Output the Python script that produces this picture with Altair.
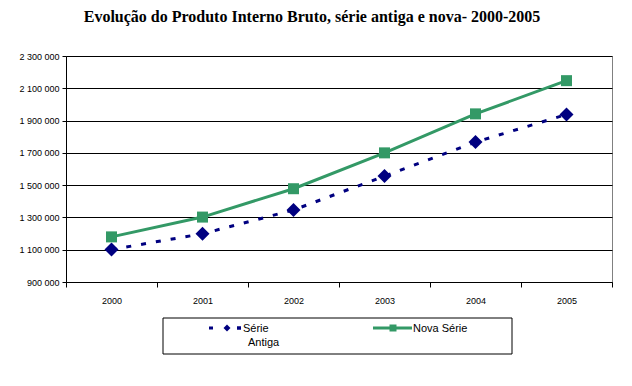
import altair as alt
import pandas as pd

years = ["2000", "2001", "2002", "2003", "2004", "2005"]
serie_antiga = [1101255, 1198736, 1346028, 1556182, 1766621, 1937598]
nova_serie = [1179482, 1302136, 1477822, 1699948, 1941498, 2147239]
y_ticks = [900000, 1100000, 1300000, 1500000, 1700000, 1900000, 2100000, 2300000]
title_text = "Evolução do Produto Interno Bruto, série antiga e nova- 2000-2005"
legend_labels = ["Série", "Antiga", "Nova Série"]

NAVY = "#000080"
GREEN = "#339966"

df_a = pd.DataFrame({"ano": years, "valor": serie_antiga})
df_n = pd.DataFrame({"ano": years, "valor": nova_serie})

xs = alt.Scale(domain=years, paddingInner=0, paddingOuter=0)
ys = alt.Scale(domain=[900000, 2300000], nice=False, zero=False)

x_enc = alt.X("ano:N", scale=xs, sort=years, title=None,
              axis=alt.Axis(labelAngle=0, tickBand="extent", domainColor="black",
                            tickColor="black", tickSize=5, labelFont="Liberation Sans",
                            labelFontSize=9, labelColor="black", labelPadding=9,
                            grid=False))
y_axis = alt.Axis(values=y_ticks, tickCount=20, grid=True, gridColor="black", gridWidth=1,
                  domainColor="black", tickColor="black", tickSize=4,
                  labelFont="Liberation Sans", labelFontSize=9, labelColor="black",
                  labelPadding=3, labelOverlap=False,
                  labelExpr="replace(format(datum.value, ','), regexp(',', 'g'), ' ')")

base_grid = alt.Chart(df_a).mark_point(opacity=0).encode(
    x=x_enc, y=alt.Y("valor:Q", scale=ys, axis=y_axis, title=None))

line_a = alt.Chart(df_a).mark_line(color=NAVY, strokeWidth=3, strokeDash=[5, 10]).encode(
    x=alt.X("ano:N", scale=xs, sort=years), y=alt.Y("valor:Q", scale=ys))
pts_a = alt.Chart(df_a).mark_point(shape="diamond", filled=True, color=NAVY, size=196, opacity=1).encode(
    x=alt.X("ano:N", scale=xs, sort=years), y=alt.Y("valor:Q", scale=ys))
line_n = alt.Chart(df_n).mark_line(color=GREEN, strokeWidth=3).encode(
    x=alt.X("ano:N", scale=xs, sort=years), y=alt.Y("valor:Q", scale=ys))
pts_n = alt.Chart(df_n).mark_point(shape="square", filled=True, color=GREEN, size=121, opacity=1).encode(
    x=alt.X("ano:N", scale=xs, sort=years), y=alt.Y("valor:Q", scale=ys))

one = alt.Data(values=[{}])
# plot origin is at page (66, 56)
ox, oy = 66, 56

title = alt.Chart(one).mark_text(text=title_text, font="Liberation Serif", fontSize=16,
                                 fontWeight="bold", color="black", align="center",
                                 baseline="alphabetic").encode(
    x=alt.value(312 - ox), y=alt.value(22 - oy))

legend_box = alt.Chart(one).mark_rect(fill="white", stroke="black", strokeWidth=1).encode(
    x=alt.value(163 - ox), x2=alt.value(512 - ox), y=alt.value(318 - oy), y2=alt.value(354 - oy))
leg_a_line = alt.Chart(one).mark_rule(color=NAVY, strokeWidth=3, strokeDash=[4, 24]).encode(
    x=alt.value(209 - ox), x2=alt.value(242 - ox), y=alt.value(328 - oy))
leg_a_line2 = alt.Chart(one).mark_rule(color=NAVY, strokeWidth=3).encode(
    x=alt.value(237 - ox), x2=alt.value(241 - ox), y=alt.value(328 - oy))
leg_a_pt = alt.Chart(one).mark_point(shape="diamond", filled=True, color=NAVY, size=49, opacity=1).encode(
    x=alt.value(227 - ox), y=alt.value(328 - oy))
leg_n_line = alt.Chart(one).mark_rule(color=GREEN, strokeWidth=3).encode(
    x=alt.value(373 - ox), x2=alt.value(412 - ox), y=alt.value(328 - oy))
leg_n_pt = alt.Chart(one).mark_point(shape="square", filled=True, color=GREEN, size=49, opacity=1).encode(
    x=alt.value(393 - ox), y=alt.value(328 - oy))
leg_t1 = alt.Chart(one).mark_text(text=legend_labels[0], font="Liberation Sans", fontSize=11,
                                  align="left", baseline="alphabetic", color="black").encode(
    x=alt.value(243 - ox), y=alt.value(332 - oy))
leg_t2 = alt.Chart(one).mark_text(text=legend_labels[1], font="Liberation Sans", fontSize=11,
                                  align="left", baseline="alphabetic", color="black").encode(
    x=alt.value(248 - ox), y=alt.value(346 - oy))
leg_t3 = alt.Chart(one).mark_text(text=legend_labels[2], font="Liberation Sans", fontSize=11,
                                  align="left", baseline="alphabetic", color="black").encode(
    x=alt.value(413 - ox), y=alt.value(332 - oy))

chart = alt.layer(
    base_grid, line_a, line_n, pts_a, pts_n, title,
    legend_box, leg_a_line, leg_a_line2, leg_a_pt, leg_n_line, leg_n_pt, leg_t1, leg_t2, leg_t3
).properties(
    width=546, height=226,
    autosize=alt.AutoSizeParams(type="none"),
    padding={"left": ox - 8, "top": oy - 8, "right": 10, "bottom": 80},
    background="white",
).configure_view(stroke="#808080")

chart.save("out.html", embed_options={"renderer": "svg", "actions": False})
